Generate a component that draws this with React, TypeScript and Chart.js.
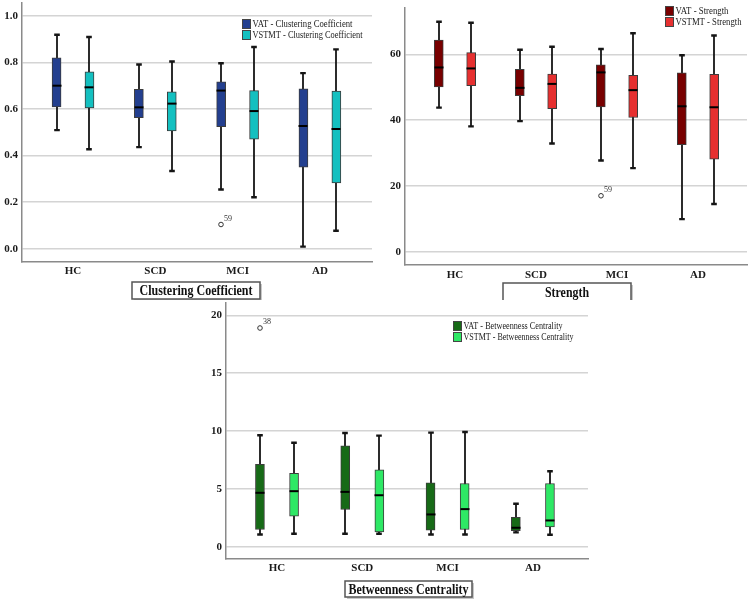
import React, { useEffect, useRef } from 'react';
import { Chart, registerables } from 'chart.js';

Chart.register(...registerables);

const categories = ['HC', 'SCD', 'MCI', 'AD'];
const seriesNames = ['VAT', 'VSTMT'];

// each entry: [min, Q1, median, Q3, max] per category
const ccVat = [
  [0.509, 0.609, 0.700, 0.820, 0.919],
  [0.436, 0.563, 0.607, 0.684, 0.791],
  [0.254, 0.524, 0.679, 0.717, 0.796],
  [0.009, 0.350, 0.527, 0.687, 0.754],
];
const ccVstmt = [
  [0.427, 0.604, 0.693, 0.760, 0.909],
  [0.334, 0.506, 0.623, 0.674, 0.804],
  [0.221, 0.470, 0.591, 0.679, 0.866],
  [0.077, 0.283, 0.514, 0.677, 0.856],
];
const ccTicks = [0, 0.2, 0.4, 0.6, 0.8, 1.0];
const ccOutliers = [{ series: 0, category: 2, value: 0.104, label: '59' }];

const stVat = [
  [43.8, 50.1, 56.0, 64.3, 69.9],
  [39.7, 47.4, 49.8, 55.4, 61.4],
  [27.7, 44.0, 54.5, 56.8, 61.6],
  [9.9, 32.5, 44.2, 54.4, 59.7],
];
const stVstmt = [
  [38.1, 50.5, 55.7, 60.5, 69.6],
  [32.9, 43.5, 51.0, 54.0, 62.3],
  [25.4, 40.8, 49.1, 53.6, 66.4],
  [14.5, 28.1, 43.9, 53.9, 65.7],
];
const stTicks = [0, 20, 40, 60];
const stOutliers = [{ series: 0, category: 2, value: 17.0, label: '59' }];

const bcVat = [
  [1.06, 1.49, 4.66, 7.13, 9.63],
  [1.12, 3.22, 4.74, 8.71, 9.83],
  [1.06, 1.44, 2.79, 5.52, 9.86],
  [1.24, 1.38, 1.64, 2.53, 3.71],
];
const bcVstmt = [
  [1.12, 2.64, 4.80, 6.35, 8.99],
  [1.12, 1.29, 4.45, 6.64, 9.60],
  [1.06, 1.49, 3.25, 5.46, 9.91],
  [1.03, 1.72, 2.27, 5.46, 6.52],
];
const bcTicks = [0, 5, 10, 15, 20];
const bcOutliers = [{ series: 0, category: 0, value: 18.9, label: '38' }];

const SERIF = "'Liberation Serif', 'Times New Roman', serif";

type Outlier = { series: number; category: number; value: number; label: string };

type PanelProps = {
  left: number;
  top: number;
  w: number;
  h: number;
  metric: string;
  vat: number[][];
  vstmt: number[][];
  colors: string[];
  ticks: number[];
  tickFmt: (v: number) => string;
  outliers: Outlier[];
  yMin: number;
  yMax: number;
  xMin: number;
  xMax: number;
  area: { left: number; right: number; top: number; bottom: number };
  labelPad: number;
  legend: { x: number; y: number; widths: number[] };
  titleBox: { x: number; y: number; w: number; h: number; textW: number };
};

function BoxPanel(p: PanelProps) {
  const ref = useRef<HTMLCanvasElement>(null);
  useEffect(() => {
    const series = [p.vat, p.vstmt];
    const offsets = [-0.2, 0.2];
    const boxW = 9;

    const plugin = {
      id: 'boxplotExtras',
      beforeDatasetsDraw(chart: any) {
        const { ctx } = chart;
        const x = chart.scales.x;
        const y = chart.scales.y;
        ctx.save();
        ctx.strokeStyle = '#151515';
        series.forEach((s, si) =>
          s.forEach((v, ci) => {
            const px = Math.round(x.getPixelForValue(ci + offsets[si]));
            const yLo = y.getPixelForValue(v[0]);
            const yHi = y.getPixelForValue(v[4]);
            ctx.lineWidth = 1.8;
            ctx.beginPath();
            ctx.moveTo(px, yLo);
            ctx.lineTo(px, yHi);
            ctx.stroke();
            ctx.lineWidth = 2.4;
            ctx.beginPath();
            ctx.moveTo(px - 2.8, yLo);
            ctx.lineTo(px + 2.8, yLo);
            ctx.moveTo(px - 2.8, yHi);
            ctx.lineTo(px + 2.8, yHi);
            ctx.stroke();
          })
        );
        ctx.restore();
      },
      afterDatasetsDraw(chart: any) {
        const { ctx } = chart;
        const x = chart.scales.x;
        const y = chart.scales.y;
        ctx.save();
        ctx.strokeStyle = '#000';
        ctx.lineWidth = 2;
        series.forEach((s, si) =>
          s.forEach((v, ci) => {
            const px = Math.round(x.getPixelForValue(ci + offsets[si]));
            const py = y.getPixelForValue(v[2]);
            ctx.beginPath();
            ctx.moveTo(px - boxW / 2, py);
            ctx.lineTo(px + boxW / 2, py);
            ctx.stroke();
          })
        );
        p.outliers.forEach((o) => {
          const px = Math.round(x.getPixelForValue(o.category + offsets[o.series]));
          const py = y.getPixelForValue(o.value);
          ctx.lineWidth = 1;
          ctx.strokeStyle = '#333';
          ctx.fillStyle = '#fff';
          ctx.beginPath();
          ctx.arc(px, py, 2.3, 0, Math.PI * 2);
          ctx.fill();
          ctx.stroke();
          ctx.fillStyle = '#333';
          ctx.font = `8px ${SERIF}`;
          ctx.textAlign = 'left';
          ctx.textBaseline = 'alphabetic';
          ctx.fillText(o.label, px + 3, py - 3.5);
        });
        ctx.restore();
      },
      afterDraw(chart: any) {
        const { ctx } = chart;
        ctx.save();
        // legend
        const lg = p.legend;
        series.forEach((_, si) => {
          const ry = lg.y + si * 11;
          ctx.fillStyle = p.colors[si];
          ctx.fillRect(lg.x, ry, 9, 10);
          ctx.strokeStyle = '#444';
          ctx.lineWidth = 1;
          ctx.strokeRect(lg.x + 0.5, ry + 0.5, 8, 9);
          ctx.fillStyle = '#222';
          ctx.font = `10px ${SERIF}`;
          ctx.textAlign = 'left';
          ctx.textBaseline = 'middle';
          ctx.fillText(`${seriesNames[si]} - ${p.metric}`, lg.x + 10.5, ry + 5.5, lg.widths[si]);
        });
        // title box
        const tb = p.titleBox;
        ctx.fillStyle = '#c8c8c8';
        ctx.fillRect(tb.x + 2, tb.y + 2, tb.w, tb.h);
        ctx.fillStyle = '#fff';
        ctx.fillRect(tb.x, tb.y, tb.w, tb.h);
        ctx.strokeStyle = '#555';
        ctx.lineWidth = 1.5;
        ctx.strokeRect(tb.x, tb.y, tb.w, tb.h);
        ctx.fillStyle = '#111';
        ctx.font = `bold 14px ${SERIF}`;
        ctx.textAlign = 'center';
        ctx.textBaseline = 'middle';
        ctx.fillText(p.metric, tb.x + tb.w / 2, tb.y + tb.h / 2 + 1, tb.textW);
        ctx.restore();
      },
    };

    const datasets = series.map((s, si) => ({
      label: `${seriesNames[si]} - ${p.metric}`,
      data: s.map((v, ci) => ({ x: ci + offsets[si], y: [v[1], v[3]] })),
      backgroundColor: p.colors[si],
      borderColor: '#3c3c3c',
      borderWidth: 1,
      borderSkipped: false,
      barThickness: boxW,
      grouped: false,
    }));

    const tickFont = { family: SERIF, size: 11, weight: 'bold' as const };

    const chart = new Chart(ref.current as HTMLCanvasElement, {
      type: 'bar',
      data: { datasets: datasets as any },
      options: {
        animation: false,
        responsive: false,
        devicePixelRatio: 1,
        layout: {
          padding: { top: p.area.top, right: p.w - p.area.right, left: 0, bottom: 0 },
        },
        plugins: {
          legend: { display: false },
          tooltip: { enabled: false },
        },
        scales: {
          x: {
            type: 'linear',
            offset: false,
            min: p.xMin,
            max: p.xMax,
            afterBuildTicks: (s: any) => {
              s.ticks = categories.map((_, i) => ({ value: i }));
            },
            afterFit: (s: any) => {
              s.height = p.h - p.area.bottom;
              s.paddingLeft = 0;
              s.paddingRight = 0;
            },
            ticks: {
              autoSkip: false,
              maxRotation: 0,
              padding: p.labelPad,
              color: '#1a1a1a',
              font: tickFont,
              callback: (v: any) => categories[Math.round(Number(v))] ?? '',
            },
            grid: { display: false, drawTicks: false },
            border: { display: true, color: '#8a8a8a', width: 1.5 },
          },
          y: {
            type: 'linear',
            min: p.yMin,
            max: p.yMax,
            afterBuildTicks: (s: any) => {
              s.ticks = p.ticks.map((v) => ({ value: v }));
            },
            afterFit: (s: any) => {
              s.width = p.area.left;
              s.paddingTop = 0;
              s.paddingBottom = 0;
            },
            ticks: {
              padding: 4,
              color: '#1a1a1a',
              font: tickFont,
              callback: (v: any) => p.tickFmt(Number(v)),
            },
            grid: { color: '#d4d4d4', lineWidth: 1.5, drawTicks: false },
            border: { display: true, color: '#8a8a8a', width: 1.5 },
          },
        },
      },
      plugins: [plugin],
    } as any);
    return () => chart.destroy();
  }, []);
  return (
    <canvas
      ref={ref}
      width={p.w}
      height={p.h}
      style={{ position: 'absolute', left: p.left, top: p.top, width: p.w, height: p.h, display: 'block' }}
    />
  );
}

export default function App() {
  return (
    <div style={{ position: 'absolute', left: 0, top: 0, width: 750, height: 599, background: '#fff', overflow: 'hidden' }}>
      <BoxPanel
        left={0}
        top={0}
        w={375}
        h={300}
        metric="Clustering Coefficient"
        vat={ccVat}
        vstmt={ccVstmt}
        colors={['#233f8f', '#14c0c0']}
        ticks={ccTicks}
        tickFmt={(v) => v.toFixed(1)}
        outliers={ccOutliers}
        yMin={-0.057}
        yMax={1.055}
        xMin={-0.62}
        xMax={3.633}
        area={{ left: 22, right: 372, top: 3, bottom: 262 }}
        labelPad={3}
        legend={{ x: 242, y: 19, widths: [100, 110] }}
        titleBox={{ x: 132, y: 282, w: 128, h: 17, textW: 113 }}
      />
      <BoxPanel
        left={375}
        top={0}
        w={375}
        h={300}
        metric="Strength"
        vat={stVat}
        vstmt={stVstmt}
        colors={['#780000', '#e63030']}
        ticks={stTicks}
        tickFmt={(v) => String(v)}
        outliers={stOutliers}
        yMin={-4.04}
        yMax={74.07}
        xMin={-0.617}
        xMax={3.605}
        area={{ left: 30, right: 372, top: 8, bottom: 265 }}
        labelPad={4}
        legend={{ x: 290, y: 6, widths: [53, 66] }}
        titleBox={{ x: 128, y: 283, w: 128, h: 18, textW: 44 }}
      />
      <BoxPanel
        left={185}
        top={300}
        w={410}
        h={299}
        metric="Betweenness Centrality"
        vat={bcVat}
        vstmt={bcVstmt}
        colors={['#176a17', '#2ee865']}
        ticks={bcTicks}
        tickFmt={(v) => String(v)}
        outliers={bcOutliers}
        yMin={-1.06}
        yMax={21.06}
        xMin={-0.598}
        xMax={3.646}
        area={{ left: 41, right: 403, top: 3, bottom: 259 }}
        labelPad={3}
        legend={{ x: 268, y: 21, widths: [99, 110] }}
        titleBox={{ x: 160, y: 281, w: 127, h: 16, textW: 120 }}
      />
    </div>
  );
}
